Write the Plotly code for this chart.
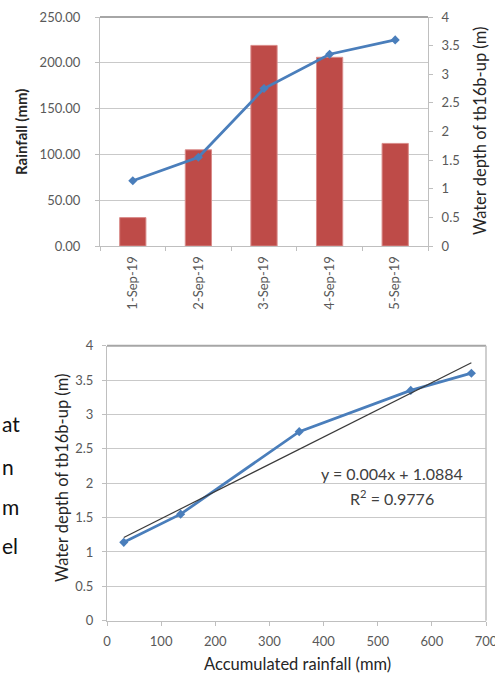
import numpy as np
import plotly.graph_objects as go

# ---- data ----
dates = ["1-Sep-19", "2-Sep-19", "3-Sep-19", "4-Sep-19", "5-Sep-19"]
rainfall = [31, 105, 219, 206, 112]
water_depth = [1.14, 1.55, 2.75, 3.35, 3.60]
accumulated = list(np.cumsum(rainfall))
left_words = ["at", "n", "m", "el"]

W, H = 495, 675
def px(x): return x / W
def py(y): return 1 - y / H

FONT = "Lato, Open Sans, sans-serif"
TICK = "#595959"
GRID = "#c9c9c9"
AXL = "#bfbfbf"
BLUE = "#4a7ebb"
RED = "#be4b48"

fig = go.Figure()

fig.add_trace(go.Bar(x=dates, y=rainfall, marker=dict(color=RED, line=dict(color="#d98b89", width=1)),
                     width=0.4, xaxis="x", yaxis="y", showlegend=False))
fig.add_trace(go.Scatter(x=dates, y=water_depth, mode="lines+markers",
                         line=dict(color=BLUE, width=2.8),
                         marker=dict(symbol="diamond", size=7, color=BLUE),
                         xaxis="x", yaxis="y2", showlegend=False))

# bottom chart
fig.add_trace(go.Scatter(x=accumulated, y=water_depth, mode="lines+markers",
                         line=dict(color=BLUE, width=2.8),
                         marker=dict(symbol="diamond", size=7, color=BLUE),
                         xaxis="x2", yaxis="y3", showlegend=False))
slope, intercept = np.polyfit(accumulated, water_depth, 1)
tx = [accumulated[0], accumulated[-1]]
fig.add_trace(go.Scatter(x=tx, y=[slope * v + intercept for v in tx], mode="lines",
                         line=dict(color="#3a3a3a", width=1.2),
                         xaxis="x2", yaxis="y3", showlegend=False))

tickfont = dict(family=FONT, size=13, color=TICK)
def common(standoff):
    return dict(showline=True, linecolor=AXL, linewidth=1, ticks="outside", ticklen=4,
                tickcolor=AXL, tickfont=tickfont, zeroline=False, fixedrange=True,
                automargin=False, ticklabelstandoff=standoff, ticklabeloverflow="allow")

fig.update_layout(
    width=W, height=H, margin=dict(l=0, r=0, t=0, b=0, autoexpand=False),
    paper_bgcolor="white", plot_bgcolor="white",
    font=dict(family=FONT),
    xaxis=dict(domain=[px(100), px(428)], anchor="y", type="category", tickangle=-90,
               tickson="boundaries", showgrid=False, **common(4)),
    yaxis=dict(domain=[py(246), py(17)], anchor="x", range=[0, 250], dtick=50, tickformat=".2f",
               showgrid=True, gridcolor=GRID, **common(12)),
    yaxis2=dict(overlaying="y", side="right", anchor="x", range=[0, 4], dtick=0.5,
                showgrid=False, **common(6)),
    xaxis2=dict(domain=[px(107), px(486)], anchor="y3", range=[0, 700], dtick=100,
                showgrid=False, **common(5)),
    yaxis3=dict(domain=[py(620.7), py(345.7)], anchor="x2", range=[0, 4], dtick=0.5,
                showgrid=True, gridcolor=GRID, **common(6)),
)

# top border lines
fig.add_shape(type="line", xref="x domain", yref="y domain", x0=0, x1=1, y0=1, y1=1,
              line=dict(color="#a6a6a6", width=2))
fig.add_shape(type="line", xref="x2 domain", yref="y3 domain", x0=0, x1=1, y0=1, y1=1,
              line=dict(color="#a6a6a6", width=2))
fig.add_shape(type="line", xref="x2 domain", yref="y3 domain", x0=1, x1=1, y0=0, y1=1,
              line=dict(color="#bfbfbf", width=1.5))

title_font = dict(family=FONT, size=16.5, color="#262626")
ann = [
    dict(x=px(21), y=py(132), text="<b>Rainfall (mm)</b>", textangle=-90, font=dict(family=FONT, size=15, color="#262626")),
    dict(x=px(480), y=py(131), text="Water depth of tb16b-up (m)", textangle=-90, font=title_font),
    dict(x=px(62), y=py(478), text="Water depth of tb16b-up (m)", textangle=-90, font=title_font),
    dict(x=px(297), y=py(664), text="Accumulated rainfall (mm)", font=title_font),
    dict(x=px(392), y=py(473), text="y = 0.004x + 1.0884", font=dict(family=FONT, size=16, color="#404040")),
    dict(x=px(392), y=py(497), text="R<sup>2</sup> = 0.9776", font=dict(family=FONT, size=16, color="#404040")),
]
for a in ann:
    fig.add_annotation(xref="paper", yref="paper", showarrow=False, xanchor="center", yanchor="middle", **a)

word_y = [423, 466, 507, 545]
for w, yy in zip(left_words, word_y):
    fig.add_annotation(xref="paper", yref="paper", x=0, y=py(yy), text=w, showarrow=False,
                       xanchor="left", yanchor="middle", font=dict(family=FONT, size=21, color="#111111"))

fig.write_html("out.html", config={"displayModeBar": False},
               post_script="document.body.style.margin='0px';document.body.style.overflow='hidden';")
